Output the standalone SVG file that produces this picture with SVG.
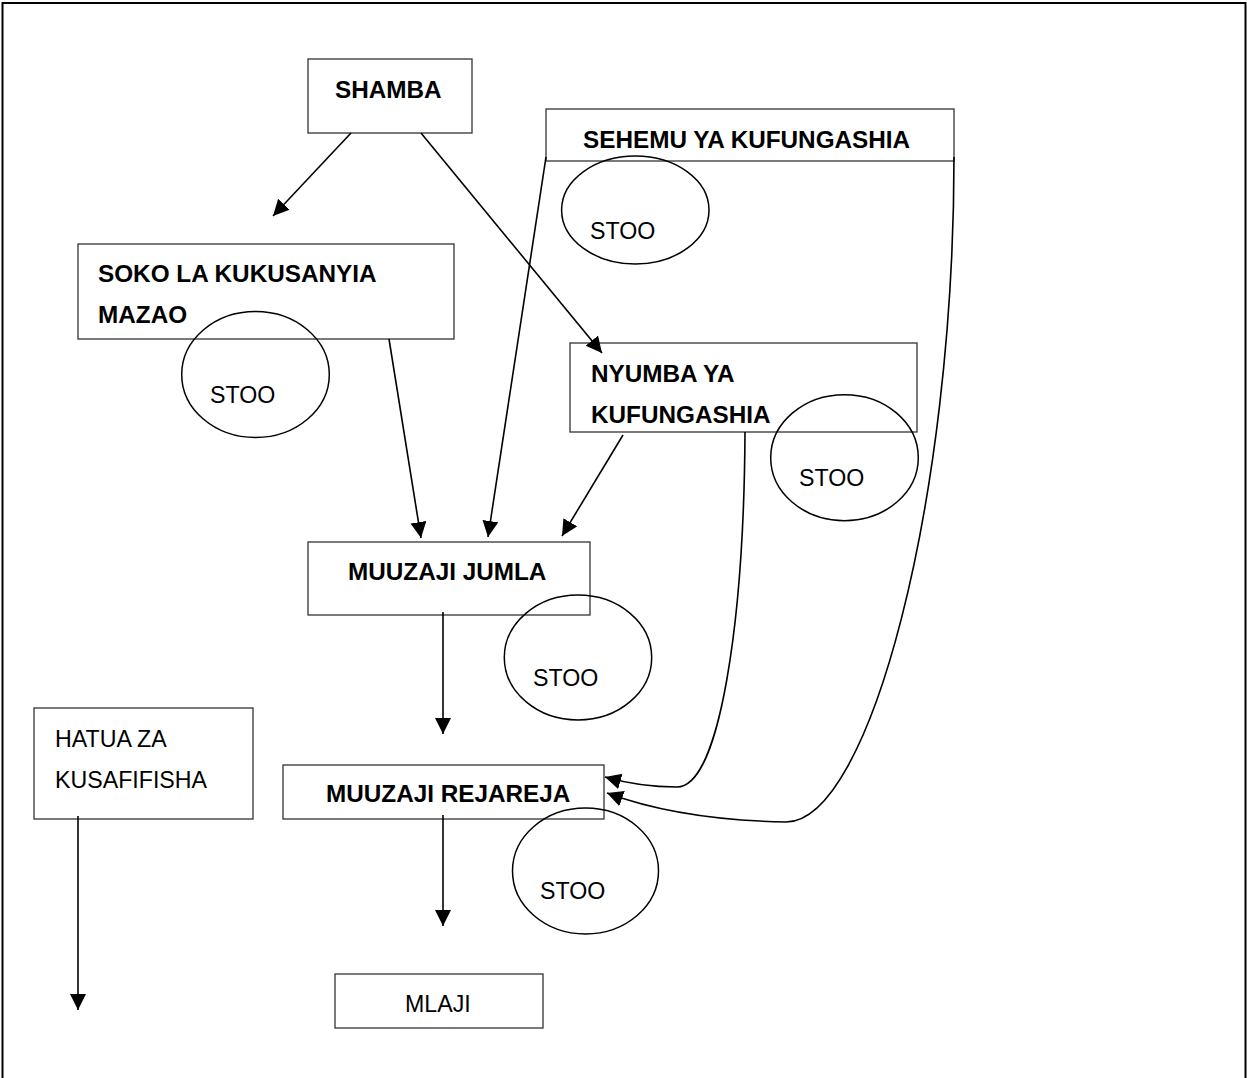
<svg xmlns="http://www.w3.org/2000/svg" width="1247" height="1078" viewBox="0 0 1247 1078">
<style>
.box{fill:#fff;stroke:#333;stroke-width:1.3}
.st{fill:none;stroke:#000;stroke-width:1.5}
.b{font-family:"Liberation Sans",Arial,sans-serif;font-weight:bold;font-size:24.3px;fill:#000}
.r{font-family:"Liberation Sans",Arial,sans-serif;font-size:23.2px;fill:#000}
.c{fill:none;stroke:#000;stroke-width:1.6}
</style>
<defs>
<marker id="ah" markerUnits="userSpaceOnUse" markerWidth="17" markerHeight="17" refX="16" refY="8" orient="auto">
<path d="M0,0 L16,8 L0,16 z" fill="#000"/>
</marker>
</defs>
<rect x="2.5" y="3" width="1243" height="1100" fill="#fff" stroke="#000" stroke-width="2"/>

<g id="shamba"><rect class="box" x="308" y="59" width="164" height="74"/><text class="b" x="335" y="98">SHAMBA</text></g>
<g id="sehemu"><rect class="box" x="546" y="109" width="408" height="52"/><text class="b" x="583" y="147.5">SEHEMU YA KUFUNGASHIA</text></g>
<g id="soko"><rect class="box" x="78" y="244" width="376" height="95"/><text class="b" x="98" y="282">SOKO LA KUKUSANYIA</text><text class="b" x="98" y="323">MAZAO</text></g>
<g id="nyumba"><rect class="box" x="570" y="343" width="347" height="89"/><text class="b" x="591" y="382">NYUMBA YA</text><text class="b" x="591" y="422.5">KUFUNGASHIA</text></g>
<g id="jumla"><rect class="box" x="308" y="542" width="282" height="73"/><text class="b" x="348" y="579.5">MUUZAJI JUMLA</text></g>
<g id="rejareja"><rect class="box" x="283" y="765" width="321" height="54"/><text class="b" x="326" y="802">MUUZAJI REJAREJA</text></g>
<g id="mlaji"><rect class="box" x="335" y="974" width="208" height="54"/><text class="r" x="405" y="1012">MLAJI</text></g>
<g id="hatua"><rect class="box" x="34" y="708" width="219" height="111"/><text class="r" x="55" y="747">HATUA ZA</text><text class="r" x="55" y="788">KUSAFIFISHA</text></g>

<g id="stoo-sehemu"><ellipse class="st" cx="635.3" cy="210" rx="73.7" ry="54"/><text class="r" x="590" y="238.5">STOO</text></g>
<g id="stoo-soko"><ellipse class="st" cx="255.5" cy="374.5" rx="73.8" ry="63"/><text class="r" x="210" y="403">STOO</text></g>
<g id="stoo-nyumba"><ellipse class="st" cx="844.5" cy="457.7" rx="73.8" ry="63"/><text class="r" x="799" y="486">STOO</text></g>
<g id="stoo-jumla"><ellipse class="st" cx="578" cy="657.5" rx="73.7" ry="62.5"/><text class="r" x="533" y="686">STOO</text></g>
<g id="stoo-rejareja"><ellipse class="st" cx="585.5" cy="871" rx="73" ry="63"/><text class="r" x="540" y="898.5">STOO</text></g>

<g id="connectors">
<line class="c" x1="351" y1="133" x2="273" y2="216" marker-end="url(#ah)"/>
<line class="c" x1="421" y1="133" x2="602" y2="353" marker-end="url(#ah)"/>
<line class="c" x1="389" y1="339" x2="421" y2="538" marker-end="url(#ah)"/>
<line class="c" x1="546" y1="157" x2="488" y2="537" marker-end="url(#ah)"/>
<line class="c" x1="623" y1="435" x2="562" y2="536" marker-end="url(#ah)"/>
<line class="c" x1="443" y1="612" x2="443" y2="734" marker-end="url(#ah)"/>
<line class="c" x1="443" y1="815" x2="443" y2="926" marker-end="url(#ah)"/>
<line class="c" x1="78" y1="816" x2="78" y2="1010" marker-end="url(#ah)"/>
<path class="c" d="M745,432 C744,620 720,787 677,787 Q640,787 605,777" marker-end="url(#ah)"/>
<path class="c" d="M954,157 C954,500 870,822 786,822 Q680,820 607,793" marker-end="url(#ah)"/>
</g>
</svg>
